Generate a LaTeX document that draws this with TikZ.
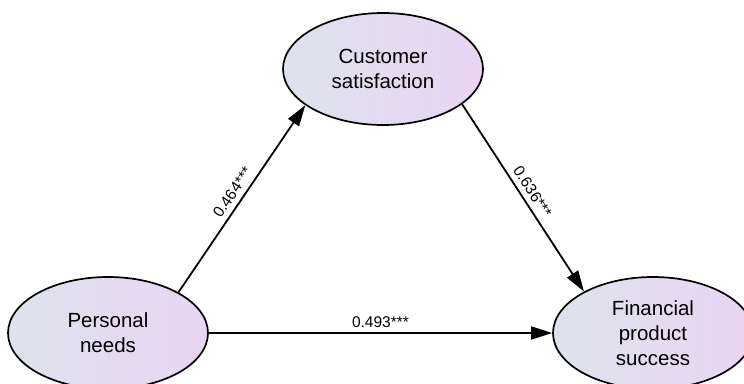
\documentclass[tikz,border=0pt]{standalone}
\usepackage{fontspec}
\setmainfont{Liberation Sans}
\usetikzlibrary{shapes.geometric,arrows.meta}
\definecolor{latleft}{RGB}{221,227,238}
\definecolor{latright}{RGB}{235,212,243}
\tikzset{latent/.style={
        ellipse, draw, line width=1.7pt,
        minimum width=200pt, minimum height=112pt, inner sep=0pt,
        left color=latleft, right color=latright,
        align=center, font=\fontsize{20.5}{25}\selectfont
    },
    path/.style={
        line width=1.8pt, -{Triangle[length=21pt,width=13pt]}
    },
    coef/.style={font=\fontsize{15.5}{18}\selectfont, inner sep=3pt}
}

\begin{document}
\begin{tikzpicture}[x=1pt, y=-1pt]
    \useasboundingbox (0,0) rectangle (744,383);
    \clip (0,0) rectangle (744,383);
    % Latent variables
    \node[latent] (satis) at (383,69) {Customer\\satisfaction};
    \node[latent] (need) at (108,333) {Personal\\needs};
    \node[latent] (success) at (653,333) {Financial\\product\\success};
    % Path coefficients
    \draw[path] (need.30.4) -- node[coef, sloped, above=2pt] {0.464***} (satis.205);
    \draw[path] (satis.336.5) -- node[coef, sloped, above=2pt] {0.636***} (success.149);
    \draw[path] (need.east) -- node[coef, above=1pt] {0.493***} (success.west);
\end{tikzpicture}
\end{document}
